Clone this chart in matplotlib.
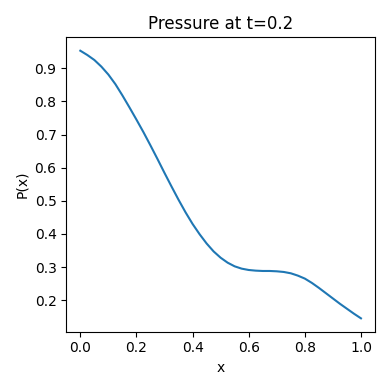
import numpy as np
import matplotlib
matplotlib.use("Agg")
import matplotlib.pyplot as plt

# pressure profile, x step 0.025
x = [0.0, 0.025, 0.05, 0.075, 0.1, 0.125, 0.15, 0.175, 0.2, 0.225,
     0.25, 0.275, 0.3, 0.325, 0.35, 0.375, 0.4, 0.425, 0.45, 0.475,
     0.5, 0.525, 0.55, 0.575, 0.6, 0.625, 0.65, 0.675, 0.7, 0.725,
     0.75, 0.775, 0.8, 0.825, 0.85, 0.875, 0.9, 0.925, 0.95, 0.975, 1.0]
p = [0.953, 0.940, 0.925, 0.905, 0.881, 0.852, 0.818, 0.782, 0.745, 0.707,
     0.667, 0.626, 0.584, 0.543, 0.503, 0.465, 0.430, 0.399, 0.371, 0.347,
     0.328, 0.313, 0.302, 0.295, 0.291, 0.289, 0.288, 0.288, 0.287, 0.285,
     0.281, 0.274, 0.265, 0.252, 0.237, 0.221, 0.205, 0.189, 0.174, 0.159, 0.145]

fig, ax = plt.subplots(figsize=(3.9, 3.9), dpi=100)
ax.plot(x, p)
ax.set_title("Pressure at t=0.2")
ax.set_xlabel("x")
ax.set_ylabel("P(x)")
fig.tight_layout()
fig.savefig("out.png")
